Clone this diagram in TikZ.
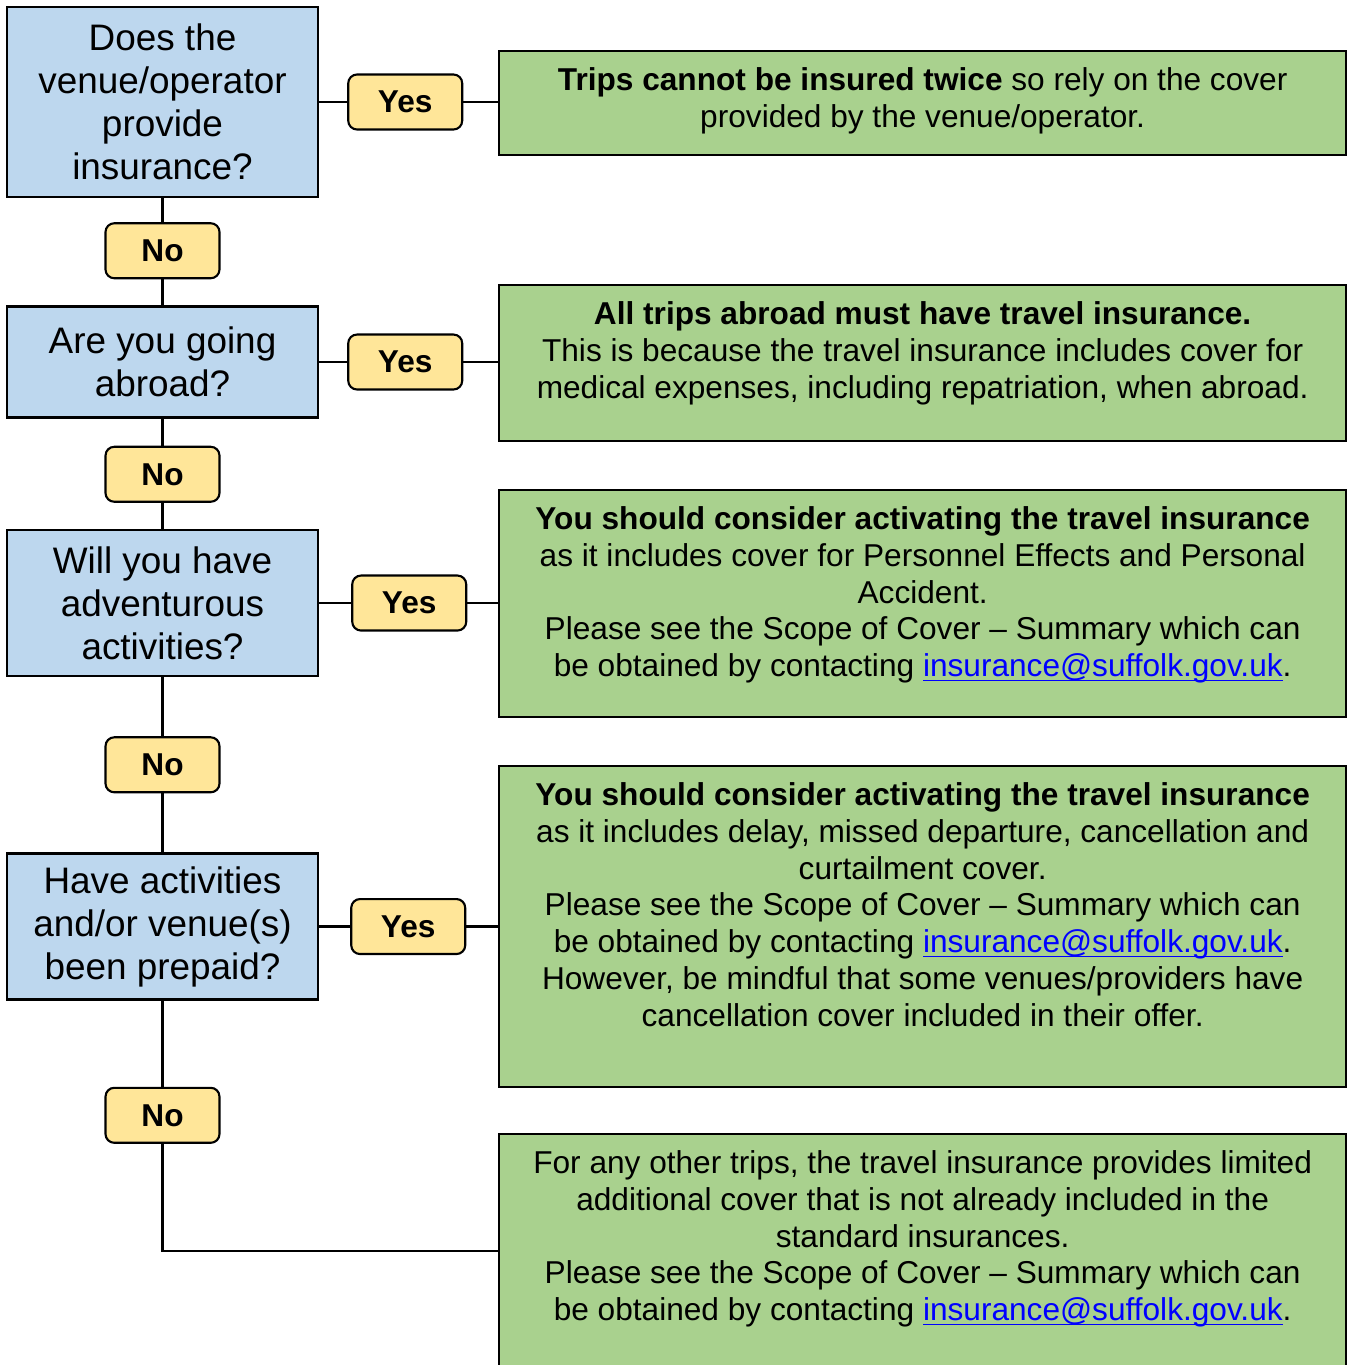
\documentclass[tikz,border=0pt]{standalone}
\usepackage{fontspec}
\setmainfont{Liberation Sans}
\usetikzlibrary{positioning}
\definecolor{qblue}{HTML}{BDD7EE}
\definecolor{ansgreen}{HTML}{A9D18E}
\definecolor{lblyellow}{HTML}{FFE699}
\newcommand{\maillink}{\textcolor{blue}{\setbox0\hbox{insurance@suffolk.gov.uk}\rlap{\rule[-2.6pt]{\wd0}{0.9pt}}\box0}}
\begin{document}
\begin{tikzpicture}[x=0.02cm, y=-0.02cm,
   qnode/.style={draw=black, line width=1.4pt, fill=qblue, align=center, minimum width=6.22cm, inner sep=0, font=\fontsize{21}{24.5}\selectfont},
   ansnode/.style={draw=black, line width=1.4pt, fill=ansgreen, minimum width=16.94cm, inner sep=0},
   anstext/.style={align=center, inner sep=0, font=\fontsize{18}{21}\selectfont},
   yesno/.style={draw=black, line width=1.2pt, fill=lblyellow, rounded corners=5pt, minimum width=2.28cm, minimum height=1.1cm, inner sep=0, font=\fontsize{18}{21}\bfseries\selectfont},
   link/.style={line width=1.4pt}
  ]
  \clip (0,0) rectangle (1353,1365);
  \fill[white] (0,0) rectangle (1353,1365);
  \node[qnode, minimum height=3.8cm] (q1) at (162.5,102) {Does the\\ venue/operator\\ provide\\ insurance?};
  \node[yesno, below=0.48cm of q1] (no1) {No};
  \node[qnode, minimum height=2.22cm, below=0.52cm of no1] (q2) {Are you going\\ abroad?};
  \node[yesno, below=0.54cm of q2] (no2) {No};
  \node[qnode, minimum height=2.92cm, below=0.52cm of no2] (q3) {Will you have\\ adventurous\\ activities?};
  \node[yesno, below=1.18cm of q3] (no3) {No};
  \node[qnode, minimum height=2.92cm, below=1.18cm of no3] (q4) {Have activities\\ and/or venue(s)\\ been prepaid?};
  \node[yesno, below=1.72cm of q4] (no4) {No};
  \node[yesno, right=0.56cm of q1] (yes1) {Yes};
  \node[yesno, right=0.56cm of q2] (yes2) {Yes};
  \node[yesno, right=0.64cm of q3] (yes3) {Yes};
  \node[yesno, right=0.62cm of q4] (yes4) {Yes};
  \node[ansnode, minimum height=2.08cm, anchor=north west] (a1) at (498,50) {};
  \node[ansnode, minimum height=3.12cm, anchor=north west] (a2) at (498,284) {};
  \node[ansnode, minimum height=4.54cm, anchor=north west] (a3) at (498,489) {};
  \node[ansnode, minimum height=6.42cm, anchor=north west] (a4) at (498,765) {};
  \node[ansnode, minimum height=4.68cm, anchor=north west] (a5) at (498,1133) {};
  \node[anstext, below=0.34cm of a1.north] (t1) {\textbf{Trips cannot be insured twice} so rely on the cover\\ provided by the venue/operator.};
  \node[anstext, below=0.34cm of a2.north] (t2) {\textbf{All trips abroad must have travel insurance.}\\ This is because the travel insurance includes cover for\\ medical expenses, including repatriation, when abroad.};
  \node[anstext, below=0.34cm of a3.north] (t3) {\textbf{You should consider activating the travel insurance}\\ as it includes cover for Personnel Effects and Personal\\ Accident.\\ Please see the Scope of Cover -- Summary which can\\ be obtained by contacting \maillink.};
  \node[anstext, below=0.34cm of a4.north] (t4) {\textbf{You should consider activating the travel insurance}\\ as it includes delay, missed departure, cancellation and\\ curtailment cover.\\ Please see the Scope of Cover -- Summary which can\\ be obtained by contacting \maillink.\\ However, be mindful that some venues/providers have\\ cancellation cover included in their offer.};
  \node[anstext, below=0.34cm of a5.north] (t5) {For any other trips, the travel insurance provides limited\\ additional cover that is not already included in the\\ standard insurances.\\ Please see the Scope of Cover -- Summary which can\\ be obtained by contacting \maillink.};
  \draw[link] (q1) -- (yes1) (yes1.east) -- (yes1.east -| a1.west);
  \draw[link] (q2) -- (yes2) (yes2.east) -- (yes2.east -| a2.west);
  \draw[link] (q3) -- (yes3) (yes3.east) -- (yes3.east -| a3.west);
  \draw[link] (q4) -- (yes4) (yes4.east) -- (yes4.east -| a4.west);
  \draw[link] (q1) -- (no1) -- (q2) -- (no2) -- (q3) -- (no3) -- (q4) -- (no4);
  \draw[link] (no4.south) |- (a5.west);
\end{tikzpicture}
\end{document}
